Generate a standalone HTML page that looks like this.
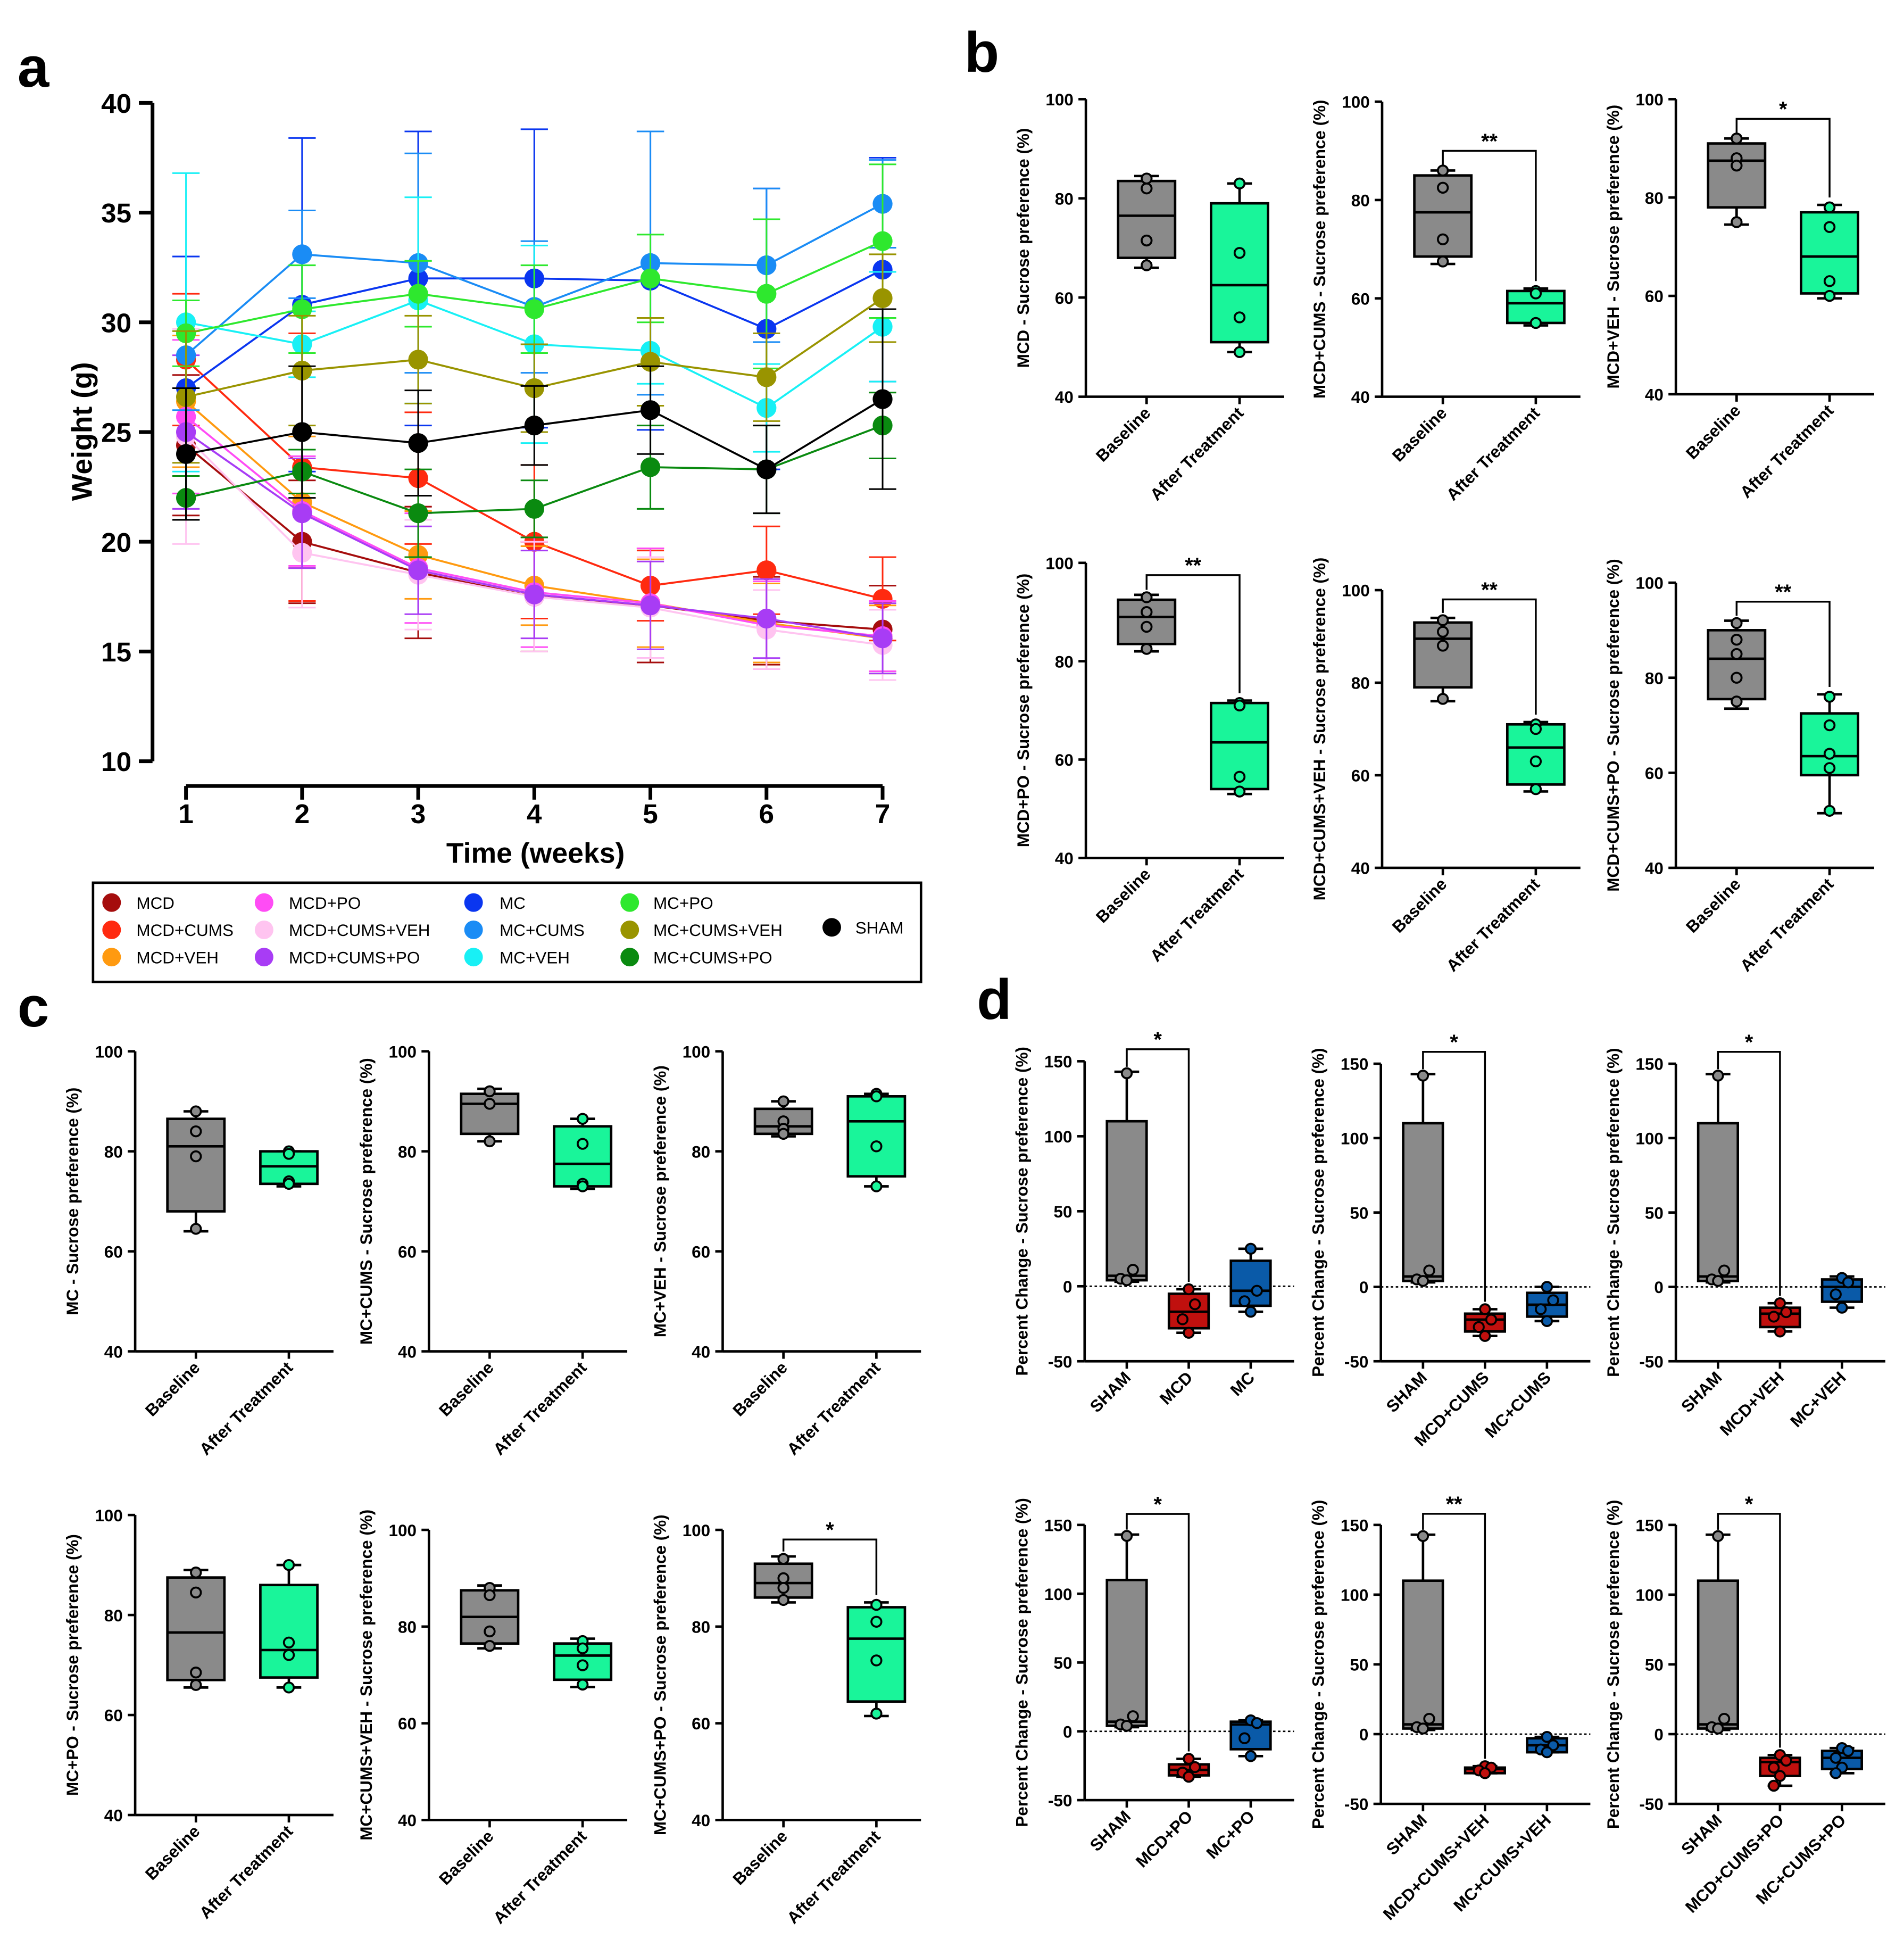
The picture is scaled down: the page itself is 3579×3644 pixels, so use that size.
<!DOCTYPE html>
<html><head><meta charset="utf-8"><style>
html,body{margin:0;padding:0;background:#fff}
svg{display:block}
text{font-family:"Liberation Sans",Arial,sans-serif}
</style></head><body>
<svg id="fig" xmlns="http://www.w3.org/2000/svg" width="3579" height="3644" viewBox="0 0 1536 1564">
<rect x="0" y="0" width="1536" height="1564" fill="#fff"/>
<text x="14" y="70" font-size="46" font-weight="bold">a</text>
<text x="778" y="58" font-size="46" font-weight="bold">b</text>
<text x="14" y="828" font-size="46" font-weight="bold">c</text>
<text x="788" y="822" font-size="46" font-weight="bold">d</text>
</svg>
<script>
// ---------- Panel a data ----------
const weeks = [1,2,3,4,5,6,7];
const yTicksA = [10,15,20,25,30,35,40];
const seriesNames = ["MCD","MCD+CUMS","MCD+VEH","MCD+PO","MCD+CUMS+VEH","MCD+CUMS+PO","MC","MC+CUMS","MC+VEH","MC+PO","MC+CUMS+VEH","MC+CUMS+PO","SHAM"];
const seriesColors = ["#a50d0d","#ff2a10","#ff9a10","#ff4cf5","#ffc4f0","#a83cf5","#0a36f0","#1a8cf5","#18f0f5","#2ee82e","#999400","#0a8a10","#000000"];
const wMCD = [24.4,20.0,18.6,17.5,17.1,16.4,16.0];
const wMCDCUMS = [28.3,23.4,22.9,20.0,18.0,18.7,17.4];
const wMCDVEH = [26.4,21.8,19.4,18.0,17.2,16.3,15.6];
const wMCDPO = [25.7,21.4,18.8,17.7,17.2,16.2,15.7];
const wMCDCUMSVEH = [24.8,19.5,18.5,17.5,17.0,16.0,15.3];
const wMCDCUMSPO = [25.0,21.3,18.7,17.6,17.1,16.5,15.6];
const wMC = [27.0,30.8,32.0,32.0,31.9,29.7,32.4];
const wMCCUMS = [28.5,33.1,32.7,30.7,32.7,32.6,35.4];
const wMCVEH = [30.0,29.0,31.0,29.0,28.7,26.1,29.8];
const wMCPO = [29.5,30.6,31.3,30.6,32.0,31.3,33.7];
const wMCCUMSVEH = [26.6,27.8,28.3,27.0,28.2,27.5,31.1];
const wMCCUMSPO = [22.0,23.2,21.3,21.5,23.4,23.3,25.3];
const wSHAM = [24.0,25.0,24.5,25.3,26.0,23.3,26.5];
const eMCD = [3.2,2.8,3.0,2.5,2.6,2.0,2.0];
const eMCDCUMS = [3.0,6.1,3.0,3.5,1.6,2.0,1.9];
const eMCDVEH = [3.0,3.0,2.0,1.8,2.0,1.8,1.5];
const eMCDPO = [3.5,2.5,2.5,2.5,2.5,2.0,1.6];
const eMCDCUMSVEH = [4.9,2.5,2.5,2.5,2.3,1.8,1.6];
const eMCDCUMSPO = [3.5,2.5,2.0,2.0,2.0,1.8,1.6];
const eMC = [6.0,7.6,6.7,6.8,6.8,6.4,5.1];
const eMCCUMS = [2.5,2.0,5.0,3.0,6.0,3.5,2.0];
const eMCVEH = [6.8,1.5,4.7,4.5,1.5,2.0,2.5];
const eMCPO = [1.5,2.0,1.5,2.0,2.0,3.4,3.5];
const eMCCUMSVEH = [3.0,2.5,2.0,2.0,2.0,2.0,2.0];
const eMCCUMSPO = [1.0,1.0,2.0,1.3,1.9,2.0,1.5];
const eSHAM = [3.0,3.0,2.4,1.8,2.0,2.0,4.1];
const allW = [wMCD,wMCDCUMS,wMCDVEH,wMCDPO,wMCDCUMSVEH,wMCDCUMSPO,wMC,wMCCUMS,wMCVEH,wMCPO,wMCCUMSVEH,wMCCUMSPO,wSHAM];
const allE = [eMCD,eMCDCUMS,eMCDVEH,eMCDPO,eMCDCUMSVEH,eMCDCUMSPO,eMC,eMCCUMS,eMCVEH,eMCPO,eMCCUMSVEH,eMCCUMSPO,eSHAM];

// ---------- Box panel data: [whiskerLow, q1, median, q3, whiskerHigh] ----------
const baseAfter = ["Baseline","After Treatment"];
const b1Boxes = [[66,68,76.5,83.5,84.5],[49,51,62.5,79,83]];
const b1Pts = [[84,82,71.5,66.5],[83,69,56,49]];
const b2Boxes = [[67,68.5,77.5,85,86],[54.5,55,59,61.5,62]];
const b2Pts = [[86,82.5,72,67.5],[61.5,61,55]];
const b3Boxes = [[74.5,78,87.5,91,92],[59.5,60.5,68,77,78.5]];
const b3Pts = [[92,88,86.5,75],[78,74,63,60]];
const b4Boxes = [[82,83.5,89,92.5,93.5],[53,54,63.5,71.5,72]];
const b4Pts = [[93,90,87,82.5],[71.5,71,56.5,53.5]];
const b5Boxes = [[76,79,89.5,93,94],[56.5,58,66,71,71.5]];
const b5Pts = [[93.5,91,88,76.5],[71,70,63,57]];
const b6Boxes = [[73.5,75.5,84,90,92],[51.5,59.5,63.5,72.5,76.5]];
const b6Pts = [[91.5,88,85,80,75],[76,70,64,61,52]];
const c1Boxes = [[64,68,81,86.5,88],[73,73.5,77,80,80]];
const c1Pts = [[88,84,79,64.5],[80,79.5,74,73.5]];
const c2Boxes = [[82,83.5,89.5,91.5,92.5],[72.5,73,77.5,85,86.5]];
const c2Pts = [[92,92,89.5,82],[86.5,81.5,73.5,73]];
const c3Boxes = [[83,83.5,85,88.5,90],[73,75,86,91,91.5]];
const c3Pts = [[90,86,84.5,83.5],[91.5,91,81,73]];
const c4Boxes = [[65.5,67,76.5,87.5,89],[65.5,67.5,73,86,90]];
const c4Pts = [[88.5,84.5,68.5,66],[90,74.5,72,65.5]];
const c5Boxes = [[75.5,76.5,82,87.5,88.5],[67.5,69,74,76.5,77.5]];
const c5Pts = [[88,86.5,79,76],[77,75.5,72,68]];
const c6Boxes = [[85,86,89,93,94.5],[61.5,64.5,77.5,84,85]];
const c6Pts = [[94,90,88,85.5],[84.5,81,73,62]];
const dSham = [3,4,7,110,143];
const dShamPts = [142,11,5,4];
const d1Boxes = [dSham,[-31,-28,-17,-5,-2],[-17,-13,-3,17,25]];
const d1Pts = [dShamPts,[-2,-12,-22,-31],[25,-3,-10,-17]];
const d2Boxes = [dSham,[-33,-30,-22,-18,-15],[-23,-20,-12,-4,0]];
const d2Pts = [dShamPts,[-15,-22,-27,-33],[0,-9,-15,-23]];
const d3Boxes = [dSham,[-30,-27,-18,-14,-11],[-14,-10,0,5,7]];
const d3Pts = [dShamPts,[-11,-17,-20,-30],[6,3,-5,-14]];
const d4Boxes = [dSham,[-33,-32,-28,-24,-20],[-18,-13,5,7,8]];
const d4Pts = [dShamPts,[-20,-26,-30,-33],[8,6,-5,-18]];
const d5Boxes = [dSham,[-28,-28,-25,-24,-23],[-13,-13,-8,-3,-2]];
const d5Pts = [dShamPts,[-23,-24,-26,-28],[-2,-8,-11,-13]];
const d6Boxes = [dSham,[-37,-30,-20,-17,-15],[-28,-25,-17,-12,-10]];
const d6Pts = [dShamPts,[-15,-19,-24,-30,-37],[-10,-12,-17,-24,-28]];
const spTicks = [40,60,80,100];
const pcTicks = [-50,0,50,100,150];

const NS = "http://www.w3.org/2000/svg";
const svg = document.getElementById("fig");
function mk(tag, attrs, name, parent) {
  const el = document.createElementNS(NS, tag);
  for (const k in attrs) el.setAttribute(k, attrs[k]);
  
  
  (parent || svg).appendChild(el);
  return el;
}
function txt(x, y, s, attrs, name, parent) {
  const t = mk("text", Object.assign({x: x, y: y}, attrs), name, parent);
  t.textContent = s;
  return t;
}

// ---------- Panel a ----------
(function(){
  const x0 = 150, x1 = 712, yTop = 83, yBot = 614;
  const xs = w => x0 + (w - 1) * (x1 - x0) / 6;
  const ys = v => yBot - (v - 10) * (yBot - yTop) / 30;
  const g = mk("g", {}, "weight-chart");
  mk("line", {x1: 123, y1: yTop, x2: 123, y2: yBot, stroke: "#000", "stroke-width": 3}, "y-axis", g);
  mk("line", {x1: x0, y1: 634, x2: x1, y2: 634, stroke: "#000", "stroke-width": 3}, "x-axis", g);
  yTicksA.forEach(v => {
    mk("line", {x1: 112, y1: ys(v), x2: 123, y2: ys(v), stroke: "#000", "stroke-width": 3}, "y-tick", g);
    txt(106, ys(v) + 8, String(v), {"font-size": 22, "font-weight": "bold", "text-anchor": "end"}, "y-tick-label", g);
  });
  weeks.forEach(w => {
    mk("line", {x1: xs(w), y1: 634, x2: xs(w), y2: 645, stroke: "#000", "stroke-width": 3}, "x-tick", g);
    txt(xs(w), 664, String(w), {"font-size": 22, "font-weight": "bold", "text-anchor": "middle"}, "x-tick-label", g);
  });
  txt(432, 696, "Time (weeks)", {"font-size": 23, "font-weight": "bold", "text-anchor": "middle"}, "x-axis-title", g);
  txt(74, 348, "Weight (g)", {"font-size": 23, "font-weight": "bold", "text-anchor": "middle", transform: "rotate(-90 74 348)"}, "y-axis-title", g);
  allW.forEach((s, i) => {
    const col = seriesColors[i];
    const sg = mk("g", {}, "series-" + seriesNames[i].toLowerCase().replace(/\+/g, "-"), g);
    s.forEach((v, j) => {
      const e = allE[i][j], x = xs(weeks[j]);
      mk("line", {x1: x, y1: ys(v - e), x2: x, y2: ys(v + e), stroke: col, "stroke-width": 1.3}, "error-bar", sg);
      mk("line", {x1: x - 11, y1: ys(v + e), x2: x + 11, y2: ys(v + e), stroke: col, "stroke-width": 1.3}, "error-cap", sg);
      mk("line", {x1: x - 11, y1: ys(v - e), x2: x + 11, y2: ys(v - e), stroke: col, "stroke-width": 1.3}, "error-cap", sg);
    });
    mk("polyline", {points: s.map((v, j) => xs(weeks[j]) + "," + ys(v)).join(" "), fill: "none", stroke: col, "stroke-width": 1.6}, "series-line", sg);
    s.forEach((v, j) => {
      mk("circle", {cx: xs(weeks[j]), cy: ys(v), r: 8, fill: col}, "data-point", sg);
    });
  });
  const lg = mk("g", {}, "legend", g);
  mk("rect", {x: 75, y: 712, width: 668, height: 80, fill: "none", stroke: "#000", "stroke-width": 2}, "legend-box", lg);
  const cols = [[90, 110], [213, 233], [382, 403], [508, 527]];
  const rows = [728, 750, 772];
  seriesNames.forEach((n, i) => {
    let cx, tx, cy;
    if (i < 12) { const c = Math.floor(i / 3); cx = cols[c][0]; tx = cols[c][1]; cy = rows[i % 3]; }
    else { cx = 671; tx = 690; cy = 748; }
    mk("circle", {cx: cx, cy: cy, r: 7.5, fill: seriesColors[i]}, "legend-marker", lg);
    txt(tx, cy + 5, n, {"font-size": 13.5}, "legend-entry", lg);
  });
})();

// ---------- Box plot panels ----------
function boxPanel(cfg) {
  const g = mk("g", {}, cfg.name);
  const [mn, mx] = cfg.range;
  const ys = v => cfg.yBot - (v - mn) * (cfg.yBot - cfg.yTop) / (mx - mn);
  const ax = cfg.ax;
  mk("line", {x1: ax, y1: cfg.yTop, x2: ax, y2: cfg.yBot, stroke: "#000", "stroke-width": 2}, "y-axis", g);
  mk("line", {x1: ax, y1: cfg.yBot, x2: ax + cfg.xlen, y2: cfg.yBot, stroke: "#000", "stroke-width": 2}, "x-axis", g);
  cfg.ticks.forEach(v => {
    mk("line", {x1: ax - 6, y1: ys(v), x2: ax, y2: ys(v), stroke: "#000", "stroke-width": 2}, "y-tick", g);
    txt(ax - 10, ys(v) + 5, String(v), {"font-size": 13.5, "font-weight": "bold", "text-anchor": "end"}, "y-tick-label", g);
  });
  const ym = (cfg.yTop + cfg.yBot) / 2;
  txt(ax - cfg.ylOff, ym, cfg.ylabel, {"font-size": 13.5, "font-weight": "bold", "text-anchor": "middle", transform: "rotate(-90 " + (ax - cfg.ylOff) + " " + ym + ")"}, "y-axis-title", g);
  if (cfg.zeroLine) {
    mk("line", {x1: ax, y1: ys(0), x2: ax + cfg.xlen, y2: ys(0), stroke: "#000", "stroke-width": 1.2, "stroke-dasharray": "2,2"}, "zero-reference-line", g);
  }
  cfg.cats.forEach((c, i) => {
    const cx = ax + cfg.centers[i], b = cfg.boxes[i], hw = cfg.bw / 2;
    const bg = mk("g", {}, "box-" + c.toLowerCase().replace(/[^a-z0-9]+/g, "-"), g);
    mk("line", {x1: cx, y1: ys(b[0]), x2: cx, y2: ys(b[4]), stroke: "#000", "stroke-width": 2}, "whisker", bg);
    mk("line", {x1: cx - 10, y1: ys(b[0]), x2: cx + 10, y2: ys(b[0]), stroke: "#000", "stroke-width": 2}, "whisker-cap", bg);
    mk("line", {x1: cx - 10, y1: ys(b[4]), x2: cx + 10, y2: ys(b[4]), stroke: "#000", "stroke-width": 2}, "whisker-cap", bg);
    mk("rect", {x: cx - hw, y: ys(b[3]), width: cfg.bw, height: ys(b[1]) - ys(b[3]), fill: cfg.colors[i], stroke: "#000", "stroke-width": 2}, "box", bg);
    mk("line", {x1: cx - hw, y1: ys(b[2]), x2: cx + hw, y2: ys(b[2]), stroke: "#000", "stroke-width": 2}, "median-line", bg);
    cfg.pts[i].forEach((p, k) => {
      const dx = cfg.jitter ? (k % 2 ? 5 : -5) * ((k % 3) ? 1 : 0) : 0;
      mk("circle", {cx: cx + dx, cy: ys(p), r: 4, fill: cfg.colors[i], stroke: "#000", "stroke-width": 1.6}, "data-point", bg);
    });
    mk("line", {x1: cx, y1: cfg.yBot, x2: cx, y2: cfg.yBot + 6, stroke: "#000", "stroke-width": 2}, "x-tick", g);
    const ty = cfg.yBot + 14;
    txt(cx + 4, ty, c, {"font-size": 13.5, "font-weight": "bold", "text-anchor": "end", transform: "rotate(-45 " + (cx + 4) + " " + ty + ")"}, "x-tick-label", g);
  });
  if (cfg.sig) {
    const [a, b, v, label] = cfg.sig;
    const xa = ax + cfg.centers[a], xb = ax + cfg.centers[b], y = ys(v);
    const ya = ys(cfg.boxes[a][4]) - 4, yb = ys(cfg.boxes[b][4]) - 6;
    mk("polyline", {points: xa + "," + ya + " " + xa + "," + y + " " + xb + "," + y + " " + xb + "," + yb, fill: "none", stroke: "#000", "stroke-width": 1.5}, "significance-bracket", g);
    txt((xa + xb) / 2, y - 2, label, {"font-size": 17, "font-weight": "bold", "text-anchor": "middle"}, "significance-label", g);
  }
}
const grey = "#8a8a8a", mint = "#19f59a", red = "#c0100e", blue = "#0a5aa8";
function spPanel(name, ax, yTop, yBot, ylabel, boxes, pts, sig) {
  boxPanel({name: name, ax: ax, yTop: yTop, yBot: yBot, range: [40, 100], ticks: spTicks, ylabel: ylabel, ylOff: 46,
    cats: baseAfter, centers: [49, 124], bw: 46, xlen: 160, boxes: boxes, pts: pts, colors: [grey, mint], sig: sig});
}
spPanel("panel-b-mcd", 876, 80, 320, "MCD - Sucrose preference (%)", b1Boxes, b1Pts, null);
spPanel("panel-b-mcd-cums", 1115, 82, 320, "MCD+CUMS - Sucrose preference (%)", b2Boxes, b2Pts, [0, 1, 90, "**"]);
spPanel("panel-b-mcd-veh", 1352, 80, 318, "MCD+VEH - Sucrose preference (%)", b3Boxes, b3Pts, [0, 1, 96, "*"]);
spPanel("panel-b-mcd-po", 876, 454, 692, "MCD+PO - Sucrose preference (%)", b4Boxes, b4Pts, [0, 1, 97.5, "**"]);
spPanel("panel-b-mcd-cums-veh", 1115, 476, 700, "MCD+CUMS+VEH - Sucrose preference (%)", b5Boxes, b5Pts, [0, 1, 98, "**"]);
spPanel("panel-b-mcd-cums-po", 1352, 470, 700, "MCD+CUMS+PO - Sucrose preference (%)", b6Boxes, b6Pts, [0, 1, 96, "**"]);
spPanel("panel-c-mc", 109, 848, 1090, "MC - Sucrose preference (%)", c1Boxes, c1Pts, null);
spPanel("panel-c-mc-cums", 346, 848, 1090, "MC+CUMS - Sucrose preference (%)", c2Boxes, c2Pts, null);
spPanel("panel-c-mc-veh", 583, 848, 1090, "MC+VEH - Sucrose preference (%)", c3Boxes, c3Pts, null);
spPanel("panel-c-mc-po", 109, 1222, 1464, "MC+PO - Sucrose preference (%)", c4Boxes, c4Pts, null);
spPanel("panel-c-mc-cums-veh", 346, 1234, 1468, "MC+CUMS+VEH - Sucrose preference (%)", c5Boxes, c5Pts, null);
spPanel("panel-c-mc-cums-po", 583, 1234, 1468, "MC+CUMS+PO - Sucrose preference (%)", c6Boxes, c6Pts, [0, 1, 98, "*"]);
function pcPanel(name, ax, yTop, yBot, g2, g3, boxes, pts, lab) {
  boxPanel({name: name, ax: ax, yTop: yTop, yBot: yBot, range: [-50, 150], ticks: pcTicks, ylabel: "Percent Change - Sucrose preference (%)", ylOff: 46,
    cats: ["SHAM", g2, g3], centers: [34, 84, 134], bw: 32, xlen: 169, boxes: boxes, pts: pts, colors: [grey, red, blue], sig: [0, 1, 158, lab], zeroLine: true, jitter: true});
}
pcPanel("panel-d-mcd", 875, 856, 1098, "MCD", "MC", d1Boxes, d1Pts, "*");
pcPanel("panel-d-mcd-cums", 1114, 858, 1098, "MCD+CUMS", "MC+CUMS", d2Boxes, d2Pts, "*");
pcPanel("panel-d-mcd-veh", 1352, 858, 1098, "MCD+VEH", "MC+VEH", d3Boxes, d3Pts, "*");
pcPanel("panel-d-mcd-po", 875, 1230, 1452, "MCD+PO", "MC+PO", d4Boxes, d4Pts, "*");
pcPanel("panel-d-mcd-cums-veh", 1114, 1230, 1455, "MCD+CUMS+VEH", "MC+CUMS+VEH", d5Boxes, d5Pts, "**");
pcPanel("panel-d-mcd-cums-po", 1352, 1230, 1455, "MCD+CUMS+PO", "MC+CUMS+PO", d6Boxes, d6Pts, "*");
</script>
</body></html>
